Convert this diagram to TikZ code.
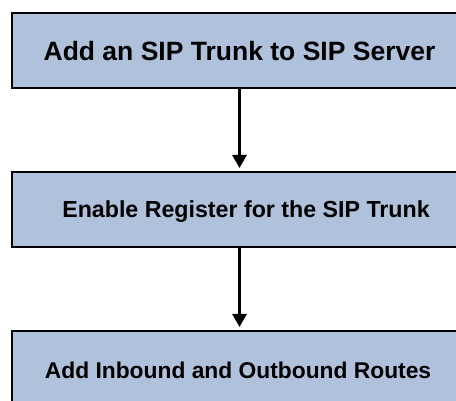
\documentclass[tikz,border=0pt]{standalone}
\usepackage{fontspec}
\setmainfont{Liberation Sans}
\usetikzlibrary{arrows.meta}
\definecolor{boxblue}{RGB}{176,193,220}
\begin{document}
\begin{tikzpicture}[x=1pt,y=-1pt,
  stepbox/.style={draw=none,fill=boxblue,minimum width=444pt,minimum height=75pt,inner sep=0pt,outer sep=0pt,anchor=north west},
  edge3/.style={draw=black,line width=1.6pt},
  flow/.style={line width=3pt,-{Triangle[width=14pt,length=13pt]},shorten >=4pt}]
\path[use as bounding box] (0,0) rectangle (456,401);
\node[stepbox] (b1) at (12,13) {};
\node[stepbox] (b2) at (12,172) {};
\node[stepbox, minimum height=70pt] (b3) at (12,331) {};
\draw[edge3] (b1.north east) -- (b1.north west) -- (b1.south west) -- (b1.south east);
\draw[edge3] (b2.north east) -- (b2.north west) -- (b2.south west) -- (b2.south east);
\draw[edge3] (b3.north east) -- (b3.north west) -- (b3.south west);
\node[font=\bfseries\fontsize{26.5}{30}\selectfont] (t1) at (239.5,51) {Add an SIP Trunk to SIP Server};
\node[font=\bfseries\fontsize{23.2}{27}\selectfont] (t2) at (246,212) {Enable Register for the SIP Trunk};
\node[font=\bfseries\fontsize{22.8}{27}\selectfont] (t3) at (238,370) {Add Inbound and Outbound Routes};
\draw[flow] (b1.south -| t1) -- (b2.north -| t1);
\draw[flow] (b2.south -| t1) -- (b3.north -| t1);
\end{tikzpicture}
\end{document}
